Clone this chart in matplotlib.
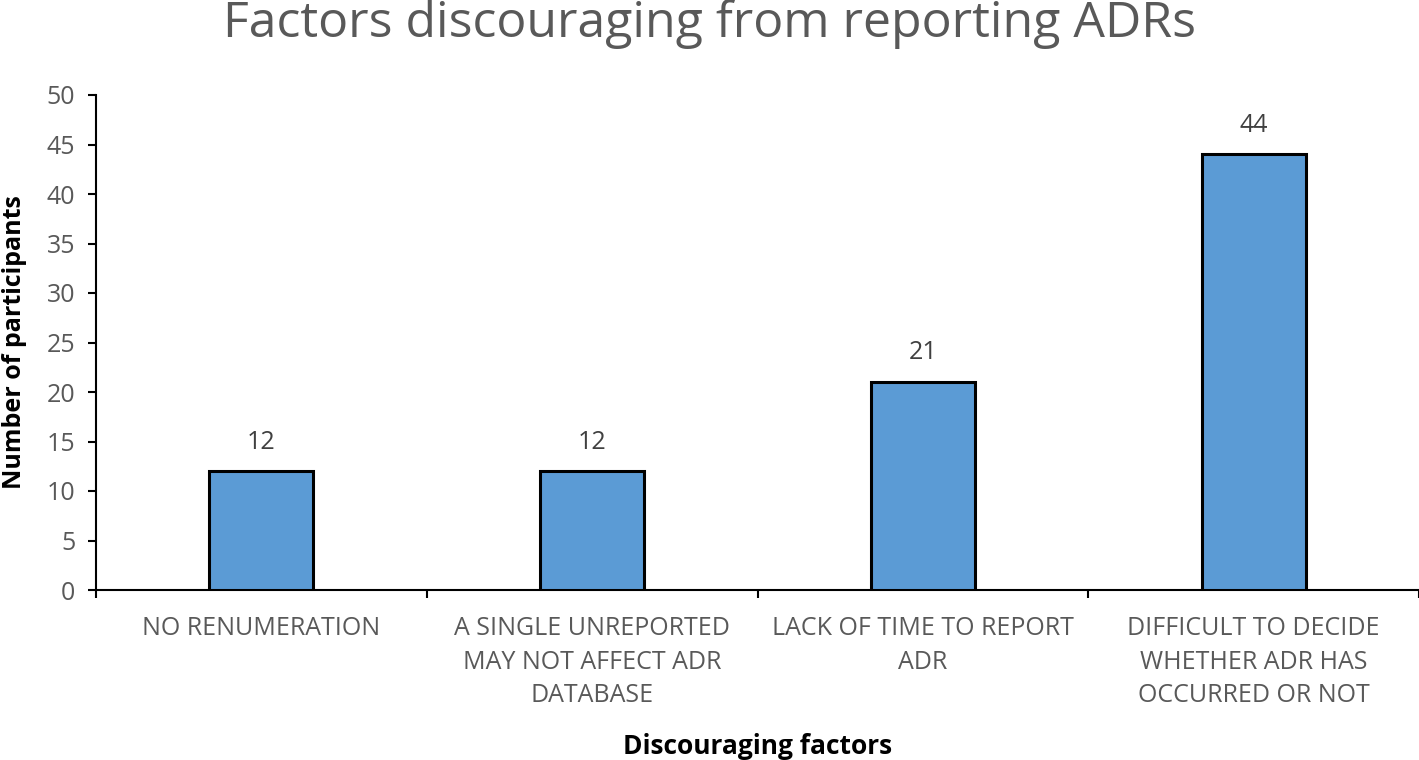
import matplotlib
matplotlib.use('Agg')
import matplotlib.pyplot as plt
import numpy as np

# Data
categories = [
    'NO RENUMERATION',
    'A SINGLE UNREPORTED\nMAY NOT AFFECT ADR\nDATABASE',
    'LACK OF TIME TO REPORT\nADR',
    'DIFFICULT TO DECIDE\nWHETHER ADR HAS\nOCCURRED OR NOT',
]
participants = [12, 12, 21, 44]
y_ticks = list(range(0, 55, 5))

GREY = '#595959'
plt.rcParams['font.family'] = ['Open Sans', 'DejaVu Sans']

fig = plt.figure(figsize=(14.19, 7.6), dpi=100)
ax = fig.add_axes([96 / 1419, 1 - 590 / 760, 1 - 96 / 1419, (590 - 95) / 760])

x = np.arange(len(categories))
ax.bar(x, participants, width=0.315, color='#5B9BD5', edgecolor='black', linewidth=2.2, zorder=3)

# Value labels
for xi, v in zip(x, participants):
    ax.annotate(str(v), xy=(xi, v), xytext=(0, 12), textcoords='offset points',
                ha='center', va='bottom', fontsize=18, color='#404040')

ax.set_xlim(-0.5, len(categories) - 0.5)
ax.set_ylim(0, 50)
ax.set_yticks(y_ticks)
ax.tick_params(axis='y', direction='out', length=6, width=1.5, colors='black',
               labelcolor=GREY, labelsize=18, pad=9)

# x ticks between categories
ax.set_xticks(x)
ax.set_xticklabels(categories, fontsize=18, color=GREY, linespacing=1.45)
ax.tick_params(axis='x', which='major', length=0, pad=19)
ax.set_xticks(np.arange(-0.5, len(categories)), minor=True)
ax.tick_params(axis='x', which='minor', direction='out', length=6, width=1.5, colors='black')

for side in ['top', 'right']:
    ax.spines[side].set_visible(False)
for side in ['left', 'bottom']:
    ax.spines[side].set_linewidth(1.5)
    ax.spines[side].set_color('black')

ax.set_ylabel('Number of participants', fontsize=18, fontweight='bold', color='black')
ax.yaxis.set_label_coords(-0.052, 0.5)
ax.set_xlabel('Discouraging factors', fontsize=19, fontweight='bold', color='black', labelpad=18)
fig.text(0.5, 0.968, 'Factors discouraging from reporting ADRs', ha='center', va='center',
         fontsize=36, color=GREY)

fig.savefig('out.png', dpi=100)
